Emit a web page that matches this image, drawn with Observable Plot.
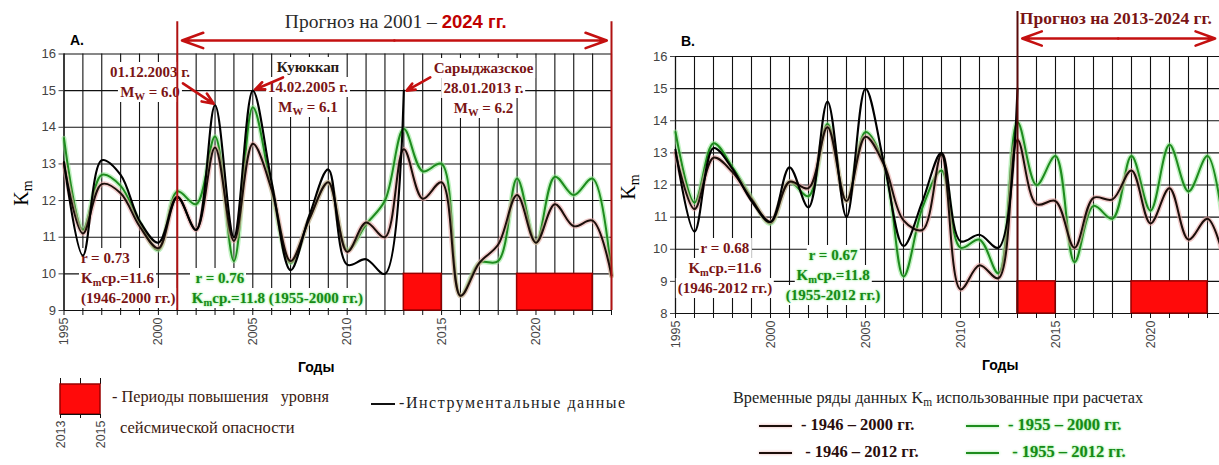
<!DOCTYPE html>
<html>
<head>
<meta charset="utf-8">
<script src="https://cdn.jsdelivr.net/npm/d3@7"></script>
<script src="https://cdn.jsdelivr.net/npm/@observablehq/plot@0.6"></script>
<style>
  html, body { margin: 0; padding: 0; background: #fff; }
  #page { position: relative; width: 1219px; height: 465px; overflow: hidden; background: #fff; }
  .panel { position: absolute; top: 0; }
  .base { z-index: 0; }
  .over { z-index: 2; pointer-events: none; }
  .lbl { position: absolute; white-space: nowrap; font-family: "Liberation Serif", "Times New Roman", serif; line-height: 20px; z-index: 3; }
  .blk { position: absolute; white-space: nowrap; font-family: "Liberation Serif", serif; font-weight: bold; font-size: 15px; line-height: 20px; z-index: 1; }
  .blk div { background: #fff; padding: 0 2px; display: table; }
  .center div { margin: 0 auto; }
  .red { color: #7a1414; }
  .green { color: #168a16; text-shadow: 0 0 2px #8fe88f, 0 0 3px #b8f5b8; }
  .dark { color: #2a1a14; }
  sub { font-size: 0.7em; vertical-align: -0.25em; line-height: 0; }
  .sans { font-family: "Liberation Sans", Arial, sans-serif; }
</style>
</head>
<body>
<div id="page"></div>
<script>
// Years on the horizontal axis
const years = d3.range(1995, 2025);
const instrumentalYears = d3.range(1995, 2014);
const yearTickLabels = [1995, 2000, 2005, 2010, 2015, 2020];

// Instrumental K_m values (panel A and panel B)
const instrumentalA = [13.05, 10.5, 13.1, 12.7, 11.45, 10.85, 12.1, 11.2, 14.6, 11.0, 15.0, 12.5, 10.1, 11.6, 12.85, 10.25, 10.4, 10.0, 15.0];
const instrumentalB = [13.1, 10.55, 13.15, 12.5, 11.5, 10.85, 12.55, 11.3, 14.6, 11.0, 15.0, 12.6, 10.1, 11.5, 13.0, 10.25, 10.45, 10.05, 15.0];

// Forecast series built from the 1946–2000 and 1955–2000 records (panel A)
const forecast1946_2000 = [13.0, 11.1, 12.45, 12.2, 11.3, 10.7, 12.1, 11.2, 13.45, 10.9, 13.55, 12.3, 10.35, 11.5, 12.5, 10.6, 11.4, 11.0, 13.4, 12.05, 12.5, 9.4, 10.3, 10.8, 12.15, 10.85, 11.9, 11.3, 11.45, 9.95];
const forecast1955_2000 = [13.7, 11.2, 12.7, 12.4, 11.4, 10.65, 12.25, 11.9, 13.75, 10.35, 14.55, 12.3, 10.3, 11.5, 12.5, 10.65, 11.35, 12.0, 13.95, 12.8, 13.0, 9.4, 10.3, 10.35, 12.6, 10.85, 12.65, 12.15, 12.6, 9.95];

// Forecast series built from the 1946–2012 and 1955–2012 records (panel B)
const forecast1946_2012 = [13.0, 11.25, 12.85, 12.4, 11.55, 10.85, 12.1, 11.9, 13.8, 11.5, 13.5, 12.6, 10.9, 10.6, 12.95, 8.75, 9.5, 9.1, 13.4, 11.4, 11.5, 10.05, 11.6, 11.55, 12.45, 10.8, 11.9, 10.3, 10.95, 9.4];
const forecast1955_2012 = [13.65, 11.45, 13.3, 12.55, 11.6, 10.8, 12.1, 11.65, 13.9, 11.5, 13.65, 12.6, 9.15, 11.3, 12.45, 10.05, 10.3, 9.25, 13.95, 12.0, 12.9, 9.6, 11.35, 10.95, 12.9, 11.2, 13.25, 11.8, 12.9, 10.0];

// Periods of raised seismic hazard
const hazardStart = [2013, 2019];
const hazardEnd = [2015, 2023];

const rows = (xs, vs) => xs.map((year, i) => ({year, value: vs[i]}));
const periods = hazardStart.map((s, i) => ({start: s, end: hazardEnd[i]}));

const GREEN = "#1e8c1e", GREEN_HALO = "#8fe68f";
const DARK = "#1c0e0a", DARK_HALO = "#e6a3a0";
const RED = "#c41010";
const SANS = "Liberation Sans, Arial, sans-serif";

function smoothLine(data, color, width, halo) {
  const out = [];
  if (halo) out.push(Plot.line(data, {x: "year", y: "value", curve: "catmull-rom", stroke: halo, strokeWidth: width + 3, strokeOpacity: 0.55}));
  out.push(Plot.line(data, {x: "year", y: "value", curve: "catmull-rom", stroke: color, strokeWidth: width}));
  return out;
}

// Each panel is two stacked plots sharing the same frame: grid and axes below,
// curves and arrows above, so the boxed labels can sit between them.
function panel({width, marginLeft, marginRight, marginTop, bottom, yMin, instrumental, darkSeries, greenSeries, extra}) {
  const yTicks = d3.range(yMin, 17);
  const frame = {
    width, height: bottom + 40,
    marginLeft, marginRight, marginTop, marginBottom: 40,
    x: {domain: [1995, 2024], axis: null},
    y: {domain: [yMin, 16], axis: null},
    style: {background: "transparent", overflow: "visible"}
  };
  const base = Plot.plot({
    ...frame,
    marks: [
      Plot.gridX(years, {stroke: "#111", strokeOpacity: 1, strokeWidth: 1.1}),
      Plot.gridY(yTicks, {stroke: "#111", strokeOpacity: 1, strokeWidth: 1.1}),
      Plot.ruleY([yMin], {stroke: "#111", strokeWidth: 1.2}),
      Plot.ruleX([1995], {stroke: "#111", strokeWidth: 1.2}),
      Plot.rect(periods, {x1: "start", x2: "end", y1: yMin, y2: yMin + 1, fill: "#ff0a0a", stroke: "#9a0000", strokeWidth: 1.5}),
      Plot.axisY({ticks: yTicks, tickSize: 5, tickPadding: 3, fontSize: 13, fontFamily: SANS, color: "#444", tickFormat: d3.format("d"), label: null}),
      Plot.axisX({ticks: years, tickSize: 5, tickFormat: () => "", color: "#111", label: null}),
      Plot.axisX({ticks: yearTickLabels, tickSize: 0, tickPadding: 7, tickRotate: -90, fontSize: 12.5, fontFamily: SANS, color: "#444", tickFormat: d3.format("d"), label: null})
    ]
  });
  const over = Plot.plot({
    ...frame,
    style: {background: "transparent", overflow: "visible"},
    marks: [
      ...smoothLine(rows(years, greenSeries), GREEN, 2, GREEN_HALO),
      ...smoothLine(rows(years, darkSeries), DARK, 2, DARK_HALO),
      ...smoothLine(rows(instrumentalYears, instrumental), "#000", 2.1, null),
      ...extra
    ]
  });
  return {base, over};
}

const page = document.getElementById("page");

function mount(p, left) {
  p.base.classList.add("panel", "base");
  p.over.classList.add("panel", "over");
  p.base.style.left = p.over.style.left = left + "px";
  page.appendChild(p.base);
  page.appendChild(p.over);
  return p.base;
}

// Panel A: forecast for 2001–2024
const chartA = mount(panel({
  width: 625, marginLeft: 63.5, marginRight: 14, marginTop: 53.5, bottom: 310, yMin: 9,
  instrumental: instrumentalA, darkSeries: forecast1946_2000, greenSeries: forecast1955_2000,
  extra: [
    Plot.ruleX([2001, 2024], {y1: 9, y2: 16.88, stroke: "#b01212", strokeWidth: 2}),
    Plot.arrow([{a: 2012.5, b: 2001.25}, {a: 2012.5, b: 2023.75}], {x1: "a", x2: "b", y1: 16.37, y2: 16.37, stroke: RED, strokeWidth: 2.6, headLength: 13, headAngle: 40}),
    Plot.arrow([{x1: 2001.3, y1: 15.2, x2: 2002.93, y2: 14.64}], {x1: "x1", y1: "y1", x2: "x2", y2: "y2", stroke: RED, strokeWidth: 2.6, headLength: 11, headAngle: 45}),
    Plot.arrow([{x1: 2006.6, y1: 15.36, x2: 2005.12, y2: 15.03}], {x1: "x1", y1: "y1", x2: "x2", y2: "y2", stroke: RED, strokeWidth: 2.6, headLength: 11, headAngle: 45}),
    Plot.arrow([{x1: 2014.4, y1: 15.36, x2: 2013.15, y2: 15.0}], {x1: "x1", y1: "y1", x2: "x2", y2: "y2", stroke: RED, strokeWidth: 2.6, headLength: 11, headAngle: 45})
  ]
}), 0);

// Panel B: forecast for 2013–2024
const chartB = mount(panel({
  width: 620, marginLeft: 55, marginRight: 14, marginTop: 56, bottom: 313, yMin: 8,
  instrumental: instrumentalB, darkSeries: forecast1946_2012, greenSeries: forecast1955_2012,
  extra: [
    Plot.ruleX([2013], {y1: 8, y2: 17.4, stroke: "#5a0a0a", strokeWidth: 2}),
    Plot.arrow([{a: 2018.3, b: 2013.25}, {a: 2018.3, b: 2023.4}], {x1: "a", x2: "b", y1: 16.56, y2: 16.56, stroke: RED, strokeWidth: 2.6, headLength: 12, headAngle: 40})
  ]
}), 620);

// Text placed through the panel scales
function put(chart, offsetX, year, value, html, cls, align) {
  const d = document.createElement("div");
  d.className = cls;
  d.innerHTML = html;
  const x = offsetX + chart.scale("x").apply(year);
  const y = chart.scale("y").apply(value);
  d.style.left = x + "px";
  d.style.top = y + "px";
  const tx = align === "center" ? "-50%" : align === "right" ? "-100%" : "0";
  d.style.transform = `translate(${tx}, -10px)`;
  page.appendChild(d);
  return d;
}

// Panel A annotations
put(chartA, 0, 1999.58, 15.5, "<div>01.12.2003 г.</div><div>M<sub>W</sub> = 6.0</div>", "blk red center", "center");
put(chartA, 0, 2007.95, 15.63, "<div class='dark'>Куюккап</div><div>14.02.2005 г.</div><div>M<sub>W</sub> = 6.1</div>", "blk red center", "center");
put(chartA, 0, 2017.25, 15.6, "<div>Сарыджазское</div><div>28.01.2013 г.</div><div>M<sub>W</sub> = 6.2</div>", "blk red center", "center");
put(chartA, 0, 1995.82, 10.42, "<div>r = 0.73</div><div>K<sub>m</sub>ср.=11.6</div><div>(1946-2000 гг.)</div>", "blk red", "left");
put(chartA, 0, 2001.69, 9.87, "<div>&nbsp;r = 0.76</div><div>K<sub>m</sub>ср.=11.8 (1955-2000 гг.)</div>", "blk green", "left");
put(chartA, 0, 2012.6, 16.86, "<span style='color:#2a2a2a;font-size:19.5px'>Прогноз на 2001 – </span><span class='sans' style='color:#c00000;font-weight:bold;font-size:18.5px'>2024 гг.</span>", "lbl", "center");

// Panel B annotations
put(chartB, 620, 1997.63, 10.02, "<div>r = 0.68</div><div>K<sub>m</sub>ср.=11.6</div><div>(1946-2012 гг.)</div>", "blk red center", "center");
put(chartB, 620, 2003.32, 9.81, "<div>r = 0.67</div><div>K<sub>m</sub>ср.=11.8</div><div>(1955-2012 гг.)</div>", "blk green center", "center");
put(chartB, 620, 2013.15, 17.18, "<span style='color:#7a1414;font-weight:bold;font-size:17.5px'>Прогноз на 2013-2024 гг.</span>", "lbl", "left");

// Fixed page text: panel letters, axis titles, legends
function fixed(x, y, html, style) {
  const d = document.createElement("div");
  d.className = "lbl";
  d.innerHTML = html;
  d.style.left = x + "px";
  d.style.top = y + "px";
  Object.assign(d.style, style || {});
  page.appendChild(d);
  return d;
}
fixed(70, 30, "A.", {fontFamily: SANS, fontWeight: "bold", fontSize: "14px"});
fixed(681, 31, "B.", {fontFamily: SANS, fontWeight: "bold", fontSize: "14px"});
fixed(298, 357, "Годы", {fontFamily: SANS, fontWeight: "bold", fontSize: "14px"});
fixed(982, 355, "Годы", {fontFamily: SANS, fontWeight: "bold", fontSize: "14px"});
fixed(21, 193, "K<sub>m</sub>", {fontSize: "20px", transform: "translate(-50%,-50%) rotate(-90deg)", transformOrigin: "center"});
fixed(628, 187, "K<sub>m</sub>", {fontSize: "20px", transform: "translate(-50%,-50%) rotate(-90deg)", transformOrigin: "center"});

// Legend swatch: the raised-hazard period on its own small axis
const swatch = Plot.plot({
  width: 60, height: 72, marginLeft: 10, marginRight: 10, marginTop: 6, marginBottom: 36,
  x: {domain: [hazardStart[0], hazardEnd[0]], axis: null},
  y: {domain: [0, 1], axis: null},
  style: {background: "transparent", overflow: "visible"},
  marks: [
    Plot.ruleX([2013, 2014, 2015], {y1: 1, y2: 1.2, stroke: "#111"}),
    Plot.rect([periods[0]], {x1: "start", x2: "end", y1: 0, y2: 1, fill: "#ff0a0a", stroke: "#9a0000", strokeWidth: 1.5}),
    Plot.ruleY([0], {stroke: "#111"}),
    Plot.axisX({ticks: [2013, 2014, 2015], tickSize: 4, tickFormat: () => "", color: "#111", label: null}),
    Plot.axisX({ticks: [2013, 2015], tickSize: 0, tickPadding: 6, tickRotate: -90, fontSize: 12.5, fontFamily: SANS, color: "#444", tickFormat: d3.format("d"), label: null})
  ]
});
swatch.style.position = "absolute";
swatch.style.left = "50px";
swatch.style.top = "378px";
page.appendChild(swatch);

fixed(112, 387, "- Периоды повышения&nbsp;&nbsp; уровня", {color: "#3a1a10", fontSize: "16.3px"});
fixed(120, 418, "сейсмической опасности", {color: "#3a1a10", fontSize: "16.5px"});
fixed(406, 393, "Инструментальные данные", {color: "#222", fontSize: "16px", letterSpacing: "1.5px"});
fixed(371, 393, "<span style='display:inline-block;width:24px;height:0;border-top:2.5px solid #111;vertical-align:middle'></span>&nbsp;<span>-</span>", {color: "#222", fontSize: "16px"});

fixed(733, 388, "Временные ряды данных K<sub>m</sub> использованные при расчетах", {color: "#222", fontSize: "16.3px"});
const sw = (c, h) => `<span style='display:inline-block;width:33px;height:0;border-top:2.5px solid ${c};box-shadow:0 0 3px ${h};vertical-align:middle;margin-right:9px'></span>`;
const rowStyle = {fontWeight: "bold", fontSize: "16.5px"};
fixed(759, 415, sw(DARK, DARK_HALO) + "- 1946 – 2000 гг.", Object.assign({color: "#2a0e0e"}, rowStyle));
fixed(966, 415, sw(GREEN, GREEN_HALO) + "<span class='green'>- 1955 – 2000 гг.</span>", rowStyle);
fixed(759, 442, sw(DARK, DARK_HALO) + "&nbsp;- 1946 – 2012 гг.", Object.assign({color: "#2a0e0e"}, rowStyle));
fixed(966, 442, sw(GREEN, GREEN_HALO) + "<span class='green'>&nbsp;- 1955 – 2012 гг.</span>", rowStyle);
</script>
</body>
</html>
